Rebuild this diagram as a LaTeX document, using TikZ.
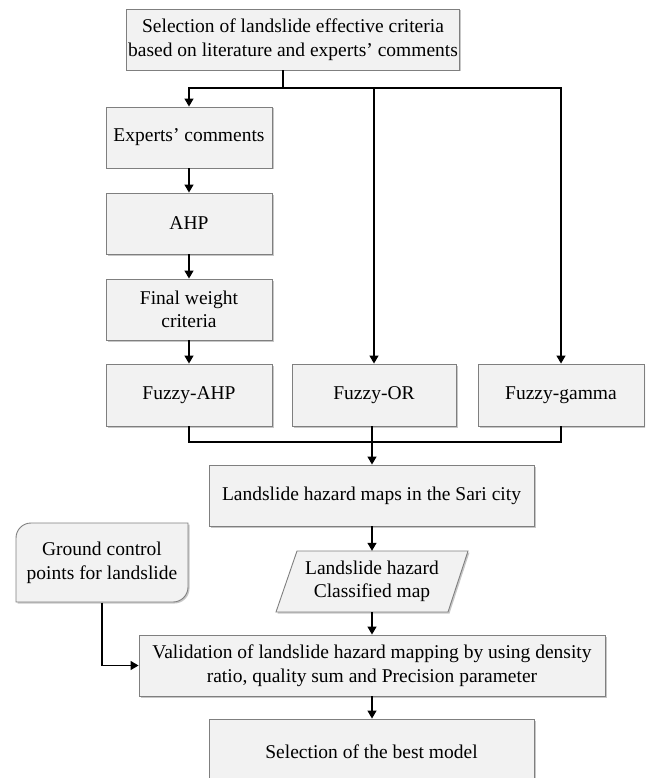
\documentclass[tikz,border=0pt]{standalone}
\usepackage{fontspec}
\setmainfont{Liberation Serif}
\usetikzlibrary{arrows.meta,shadows,calc}
\definecolor{boxfill}{HTML}{F2F2F2}
\definecolor{boxline}{HTML}{7F7F7F}
\begin{document}
\begin{tikzpicture}[x=1pt,y=-1pt,
  shad/.style={drop shadow={shadow xshift=1.5pt, shadow yshift=-1.5pt, fill=black, opacity=0.22}},
  boxpath/.style={draw=boxline, line width=0.9pt, fill=boxfill, shad},
  box/.style={boxpath, inner sep=2pt, align=center, font=\fontsize{19.5}{23.5}\selectfont},
  txt/.style={inner sep=0pt, align=center, font=\fontsize{19.5}{23.5}\selectfont},
  conn/.style={line width=1.3pt, black},
  arr/.style={conn, -{Triangle[length=8pt,width=9pt]}}]
\useasboundingbox (0,0) rectangle (645,778);
\clip (0,0) rectangle (645,778);

\node[box, minimum width=330pt, minimum height=61pt] (top) at (293,39.5) {Selection of landslide effective criteria\\based on literature and experts’ comments};
\node[box, minimum width=166pt, minimum height=61pt] (exp) at (189,137.5) {Experts’ comments};
\node[box, minimum width=166pt, minimum height=61pt] (ahp) at (189,223.5) {AHP};
\node[box, minimum width=166pt, minimum height=61pt] (fw) at (189,309.5) {Final weight\\criteria};
\node[box, minimum width=166pt, minimum height=62pt] (fahp) at (189,395) {Fuzzy-AHP};
\node[box, minimum width=164pt, minimum height=62pt] (for) at (374,395) {Fuzzy-OR};
\node[box, minimum width=166pt, minimum height=62pt] (fg) at (561,395) {Fuzzy-gamma};
\node[box, minimum width=325pt, minimum height=61pt] (maps) at (371.5,495.5) {Landslide hazard maps in the Sari city};

\draw[boxpath] (297,551) -- (468,551) -- (448,612) -- (276,612) -- cycle;
\node[txt, minimum width=172pt, minimum height=61pt] (par) at (372,581.5) {Landslide hazard\\Classified map};

\draw[boxpath] (16,538) .. controls (16,529.7) and (22.7,523) .. (31,523) -- (188,523) -- (188,587) .. controls (188,595.3) and (181.3,602) .. (173,602) -- (16,602) -- cycle;
\node[txt, minimum width=172pt, minimum height=79pt] (gcp) at (102,563) {Ground control\\points for landslide};

\node[box, minimum width=466pt, minimum height=61pt] (val) at (372,665.5) {Validation of landslide hazard mapping by using density\\ratio, quality sum and Precision parameter};
\node[box, minimum width=325pt, minimum height=66pt] (best) at (371.5,752) {Selection of the best model};

\coordinate (split) at (283,88);
\draw[conn] (split |- top.south) -- (split);
\draw[arr] (split) -| (exp.north);
\draw[arr] (split) -| (for.north);
\draw[arr] (split) -| (fg.north);
\draw[arr] (exp) -- (ahp);
\draw[arr] (ahp) -- (fw);
\draw[arr] (fw) -- (fahp);
\coordinate (join) at (372,442);
\draw[conn] (fahp.south) |- (join);
\draw[conn] (fg.south) |- (join);
\draw[arr] (join |- for.south) -- (maps.north -| join);
\draw[arr] (maps.south -| par.north) -- (par.north);
\draw[arr] (par.south) -- (par.south |- val.north);
\draw[arr] (val.south) -- (val.south |- best.north);
\draw[arr] (gcp.south) |- (val.west);
\end{tikzpicture}
\end{document}
